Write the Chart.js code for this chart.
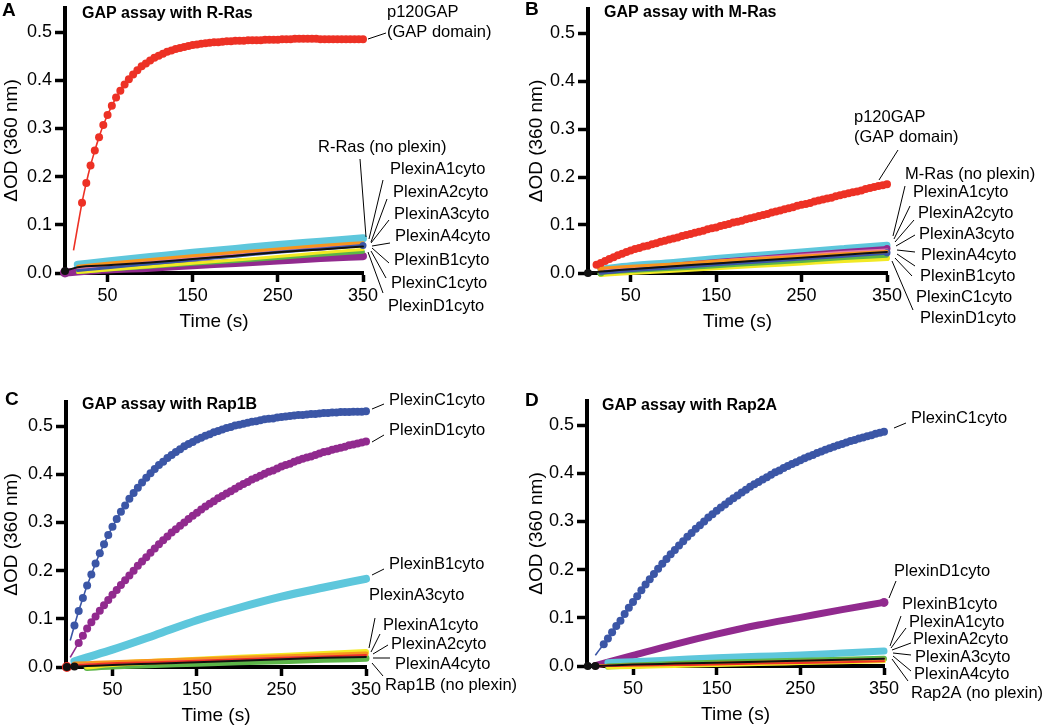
<!DOCTYPE html>
<html>
<head>
<meta charset="utf-8">
<script src="https://cdn.jsdelivr.net/npm/chart.js@4.4.1/dist/chart.umd.min.js"></script>
<style>
  body { margin: 0; background: #fff; width: 1050px; height: 728px; position: relative; overflow: hidden; }
  canvas { position: absolute; }
</style>
</head>
<body>
<canvas id="chartA" width="525" height="364" style="left:0;top:0"></canvas>
<canvas id="chartB" width="525" height="364" style="left:525px;top:0"></canvas>
<canvas id="chartC" width="525" height="364" style="left:0;top:364px"></canvas>
<canvas id="chartD" width="525" height="364" style="left:525px;top:364px"></canvas>
<script>
// ---- data ----
const xTicks = [50, 150, 250, 350];
const yTicks = [0, 0.1, 0.2, 0.3, 0.4, 0.5];

// time points of the dense (5 s) traces
const time5 = [0, 5, 10, 15, 20, 25, 30, 35, 40, 45,
    50, 55, 60, 65, 70, 75, 80, 85, 90, 95,
    100, 105, 110, 115, 120, 125, 130, 135, 140, 145,
    150, 155, 160, 165, 170, 175, 180, 185, 190, 195,
    200, 205, 210, 215, 220, 225, 230, 235, 240, 245,
    250, 255, 260, 265, 270, 275, 280, 285, 290, 295,
    300, 305, 310, 315, 320, 325, 330, 335, 340, 345,
    350];

// time points of the flat control traces
const bandTimeAB = [0, 15, 50, 100, 150, 200, 250, 300, 350];
const bandTimeCD = [-4, 5, 20, 50, 100, 150, 200, 250, 300, 350];

// A: R-Ras
const rRasP120 = [null, null, 0.047, null, 0.146, 0.187, 0.223, 0.254, 0.282, 0.307,
    0.328, 0.347, 0.364, 0.378, 0.391, 0.402, 0.412, 0.421, 0.429, 0.435,
    0.441, 0.447, 0.451, 0.455, 0.459, 0.462, 0.465, 0.467, 0.469, 0.471,
    0.473, 0.474, 0.476, 0.477, 0.478, 0.479, 0.479, 0.480, 0.481, 0.481,
    0.482, 0.482, 0.482, 0.483, 0.483, 0.483, 0.483, 0.484, 0.484, 0.484,
    0.484, 0.485, 0.485, 0.485, 0.486, 0.486, 0.486, 0.486, 0.486, 0.486,
    0.485, 0.485, 0.485, 0.485, 0.485, 0.485, 0.485, 0.485, 0.485, 0.485,
    0.485];
const rRasCyan   = [null, 0.017, 0.024, 0.033, 0.042, 0.050, 0.058, 0.065, 0.072];
const rRasOrange = [null, 0.014, 0.020, 0.028, 0.036, 0.043, 0.050, 0.057, 0.063];
const rRasPink   = [null, 0.010, 0.016, 0.024, 0.032, 0.040, 0.047, 0.054, 0.060];
const rRasBlue   = [null, 0.005, 0.011, 0.019, 0.027, 0.035, 0.043, 0.050, 0.057];
const rRasBlack  = [0.004, 0.012, 0.016, 0.022, 0.029, 0.036, 0.043, 0.049, 0.055];
const rRasYellow = [null, 0.001, 0.006, 0.013, 0.020, 0.027, 0.034, 0.042, 0.049];
const rRasGreen  = [null, 0.002, 0.007, 0.013, 0.019, 0.025, 0.031, 0.038, 0.044];
const rRasPurple = [0.001, 0.003, 0.007, 0.011, 0.016, 0.021, 0.026, 0.031, 0.035];

// B: M-Ras
const mRasP120 = [null, null, 0.017, 0.021, 0.025, 0.029, 0.033, 0.037, 0.040, 0.044,
    0.047, 0.050, 0.052, 0.055, 0.057, 0.060, 0.062, 0.065, 0.067, 0.070,
    0.072, 0.074, 0.077, 0.079, 0.081, 0.084, 0.086, 0.088, 0.091, 0.093,
    0.095, 0.098, 0.100, 0.102, 0.105, 0.107, 0.109, 0.112, 0.114, 0.116,
    0.119, 0.121, 0.123, 0.126, 0.128, 0.130, 0.133, 0.135, 0.137, 0.140,
    0.142, 0.144, 0.146, 0.149, 0.151, 0.153, 0.155, 0.157, 0.160, 0.162,
    0.164, 0.166, 0.168, 0.170, 0.172, 0.175, 0.177, 0.179, 0.181, 0.183,
    0.185];
const mRasCyan   = [null, 0.008, 0.015, 0.022, 0.030, 0.037, 0.044, 0.051, 0.058];
const mRasPurple = [null, 0.002, 0.008, 0.016, 0.024, 0.031, 0.038, 0.045, 0.051];
const mRasPink   = [null, 0.004, 0.010, 0.017, 0.024, 0.031, 0.037, 0.043, 0.048];
const mRasOrange = [null, 0.010, 0.014, 0.019, 0.025, 0.030, 0.035, 0.040, 0.045];
const mRasBlue   = [null, 0.001, 0.006, 0.012, 0.018, 0.024, 0.030, 0.036, 0.042];
const mRasBlack  = [0.0, 0.003, 0.008, 0.014, 0.020, 0.026, 0.032, 0.038, 0.044];
const mRasGreen  = [null, 0.0, 0.004, 0.009, 0.014, 0.020, 0.025, 0.031, 0.036];
const mRasYellow = [null, -0.002, 0.002, 0.007, 0.012, 0.017, 0.022, 0.027, 0.031];

// C: Rap1B
const rap1bC1 = [0.055, 0.086, 0.116, 0.143, 0.169, 0.192, 0.215, 0.236, 0.255, 0.274,
    0.291, 0.307, 0.322, 0.335, 0.349, 0.361, 0.372, 0.383, 0.393, 0.402,
    0.411, 0.419, 0.426, 0.434, 0.440, 0.446, 0.452, 0.458, 0.463, 0.467,
    0.472, 0.476, 0.480, 0.483, 0.487, 0.490, 0.493, 0.496, 0.498, 0.501,
    0.503, 0.505, 0.507, 0.509, 0.510, 0.512, 0.514, 0.515, 0.516, 0.518,
    0.519, 0.520, 0.521, 0.522, 0.523, 0.523, 0.524, 0.525, 0.525, 0.526,
    0.527, 0.527, 0.528, 0.528, 0.529, 0.529, 0.529, 0.530, 0.530, 0.530,
    0.531];
const rap1bD1 = [0.020, null, 0.050, 0.065, 0.080, 0.093, 0.105, 0.117, 0.128, 0.139,
    0.150, 0.160, 0.170, 0.180, 0.190, 0.200, 0.210, 0.219, 0.228, 0.237,
    0.246, 0.255, 0.263, 0.271, 0.279, 0.286, 0.293, 0.300, 0.307, 0.314,
    0.320, 0.327, 0.333, 0.339, 0.344, 0.350, 0.355, 0.360, 0.365, 0.370,
    0.375, 0.380, 0.384, 0.389, 0.393, 0.397, 0.401, 0.405, 0.408, 0.412,
    0.416, 0.419, 0.422, 0.426, 0.429, 0.432, 0.435, 0.437, 0.440, 0.443,
    0.446, 0.448, 0.451, 0.453, 0.455, 0.457, 0.460, 0.462, 0.464, 0.466,
    0.468];
const rap1bB1     = [null, 0.012, 0.020, 0.036, 0.066, 0.097, 0.123, 0.146, 0.165, 0.183];
const rap1bYellow = [null, null, 0.001, 0.006, 0.011, 0.015, 0.019, 0.023, 0.027, 0.031];
const rap1bOrange = [null, 0.006, 0.007, 0.009, 0.012, 0.015, 0.018, 0.021, 0.024, 0.027];
const rap1bRed    = [0.0, 0.003, 0.005, 0.008, 0.010, 0.013, 0.016, 0.019, 0.022, 0.025];
const rap1bPink   = [null, 0.004, 0.005, 0.007, 0.010, 0.013, 0.016, 0.019, 0.022, 0.024];
const rap1bBlack  = [0.0, 0.001, 0.002, 0.004, 0.007, 0.010, 0.013, 0.016, 0.019, 0.021];
const rap1bGreen  = [null, null, -0.001, 0.002, 0.005, 0.008, 0.011, 0.013, 0.016, 0.018];

// D: Rap2A
const rap2aC1 = [null, 0.022, 0.034, 0.045, 0.057, 0.070, 0.083, 0.094, 0.108, 0.121,
    0.133, 0.145, 0.157, 0.169, 0.180, 0.191, 0.202, 0.212, 0.222, 0.232,
    0.241, 0.250, 0.259, 0.268, 0.276, 0.285, 0.292, 0.300, 0.308, 0.315,
    0.322, 0.329, 0.335, 0.342, 0.348, 0.354, 0.360, 0.366, 0.372, 0.377,
    0.382, 0.387, 0.392, 0.397, 0.402, 0.406, 0.411, 0.415, 0.419, 0.423,
    0.427, 0.431, 0.435, 0.438, 0.442, 0.445, 0.449, 0.452, 0.455, 0.458,
    0.461, 0.464, 0.467, 0.469, 0.472, 0.474, 0.477, 0.479, 0.482, 0.484,
    0.486];
const rap2aD1     = [null, 0.001, 0.008, 0.022, 0.045, 0.066, 0.085, 0.101, 0.117, 0.132];
const rap2aCyan   = [null, null, 0.007, 0.009, 0.013, 0.017, 0.020, 0.023, 0.027, 0.031];
const rap2aGreen  = [null, null, -0.001, 0.001, 0.004, 0.007, 0.009, 0.011, 0.013, 0.015];
const rap2aOrange = [null, 0.0, 0.001, 0.002, 0.004, 0.006, 0.008, 0.010, 0.012, 0.014];
const rap2aRed    = [null, 0.0, 0.0, 0.001, 0.002, 0.003, 0.005, 0.006, 0.008, 0.010];
const rap2aYellow = [null, null, -0.003, -0.002, 0.0, 0.002, 0.004, 0.006, 0.008, 0.010];
const rap2aBlack  = [0.0, 0.0, 0.001, 0.003, 0.005, 0.007, 0.009, 0.011, 0.013, 0.015];

// ---- colours ----
const RED = '#ed3125', BLUE = '#3b56a6', PURPLE = '#912a8e', CYAN = '#5ec7dc',
      ORANGE = '#f7941e', YELLOW = '#f2e924', GREEN = '#5cb548', PINK = '#e87ba5', BLACK = '#111111';

const FONT = '"Liberation Sans", Arial, sans-serif';
Chart.defaults.font.family = FONT;
Chart.defaults.color = '#000';

function pair(times, values) {
    return times.map((t, i) => ({ x: t, y: values[i] }));
}

// trace drawn as dots joined by a thin fitted line
function dotted(times, values, color, firstDot) {
    return {
        data: pair(times, values),
        borderColor: color, backgroundColor: color, borderWidth: 1.6,
        pointRadius: ctx => (times[ctx.dataIndex] < firstDot ? 0 : 4),
        pointBorderWidth: 0, pointHoverRadius: 0,
        spanGaps: true, tension: 0.3, clip: false
    };
}

// flat trace: dots so dense they merge into a band
function band(times, values, color, width, dots = [], dotR = 4) {
    return {
        data: pair(times, values),
        borderColor: color, backgroundColor: color, borderWidth: width,
        borderCapStyle: 'round', borderJoinStyle: 'round',
        pointRadius: ctx => (dots.includes(ctx.dataIndex) ? dotR : 0),
        pointBorderWidth: 0, pointHoverRadius: 0,
        spanGaps: true, cubicInterpolationMode: 'monotone', clip: false
    };
}

// letters, titles and right-hand labels with leader lines
const annotPlugin = {
    id: 'annot',
    afterDraw(chart, args, o) {
        const ctx = chart.ctx, a = chart.chartArea;
        ctx.save();
        ctx.fillStyle = '#000';
        ctx.textBaseline = 'middle';
        ctx.font = 'bold 19px ' + FONT;
        ctx.fillText(o.letter, o.letterPos[0], o.letterPos[1]);
        ctx.font = 'bold 16px ' + FONT;
        ctx.fillText(o.title, o.titlePos[0], o.titlePos[1]);
        ctx.font = '16.5px ' + FONT;
        ctx.strokeStyle = '#000';
        ctx.lineWidth = 1;
        o.labels.forEach(l => {
            l.t.forEach((s, i) => ctx.fillText(s, a.right + l.dx, a.bottom + l.dy + i * 20));
            ctx.beginPath();
            ctx.moveTo(a.right + l.lead[0], a.bottom + l.lead[1]);
            ctx.lineTo(a.right + l.lead[2], a.bottom + l.lead[3]);
            ctx.stroke();
        });
        ctx.restore();
    }
};

function makeChart(id, p) {
    new Chart(document.getElementById(id), {
        type: 'line',
        data: { datasets: p.datasets },
        options: {
            responsive: false,
            animation: false,
            layout: { padding: p.pad },
            plugins: { legend: { display: false }, tooltip: { enabled: false }, annot: p.annot },
            scales: {
                x: {
                    type: 'linear', min: p.xmin, max: 350,
                    afterBuildTicks: s => { s.ticks = xTicks.map(v => ({ value: v })); },
                    afterFit: s => { s.height = 60; s.paddingLeft = 0; s.paddingRight = 0; },
                    ticks: { font: { size: 18 }, padding: 3, color: '#000', maxRotation: 0 },
                    grid: { drawOnChartArea: false, drawTicks: true, tickLength: 9, tickWidth: 3.5, tickColor: '#000' },
                    border: { display: true, width: 4, color: '#000' },
                    title: { display: true, text: 'Time (s)', font: { size: 19 }, padding: 0, color: '#000' }
                },
                y: {
                    min: 0, max: 0.55,
                    afterBuildTicks: s => { s.ticks = yTicks.map(v => ({ value: v })); },
                    afterFit: s => { s.width = p.yW; s.paddingTop = 0; s.paddingBottom = 0; },
                    ticks: { font: { size: 18 }, padding: 3, color: '#000', callback: v => v.toFixed(1) },
                    grid: { drawOnChartArea: false, drawTicks: true, tickLength: 10, tickWidth: 3.5, tickColor: '#000' },
                    border: { display: true, width: 4, color: '#000' },
                    title: { display: true, text: 'ΔOD (360 nm)', font: { size: 19 }, padding: 0, color: '#000' }
                }
            }
        },
        plugins: [annotPlugin]
    });
}

// A
makeChart('chartA', {
    xmin: 0, yW: 65, pad: { left: 0, right: 162, top: 8, bottom: 31 },
    datasets: [
        dotted(time5, rRasP120, RED, 20),
        band(bandTimeAB, rRasBlack, BLACK, 2, [0], 4),
        band(bandTimeAB, rRasBlue, BLUE, 3, [8], 3.5),
        band(bandTimeAB, rRasOrange, ORANGE, 3),
        band(bandTimeAB, rRasPink, PINK, 3),
        band(bandTimeAB, rRasYellow, YELLOW, 3),
        band(bandTimeAB, rRasGreen, GREEN, 4),
        band(bandTimeAB, rRasCyan, CYAN, 8),
        band(bandTimeAB, rRasPurple, PURPLE, 8, [0], 5)
    ],
    annot: {
        letter: 'A', letterPos: [2, 11], title: 'GAP assay with R-Ras', titlePos: [82, 14],
        labels: [
            { t: ['p120GAP', '(GAP domain)'], dx: 24, dy: -261, lead: [5, -234, 23, -240] },
            { t: ['R-Ras (no plexin)'], dx: -45, dy: -126, lead: [-3, -114, 3, -36] },
            { t: ['PlexinA1cyto'], dx: 27, dy: -104, lead: [20, -93, 6, -34] },
            { t: ['PlexinA2cyto'], dx: 30, dy: -81, lead: [24, -74, 8, -31] },
            { t: ['PlexinA3cyto'], dx: 31, dy: -59, lead: [26, -53, 8, -30] },
            { t: ['PlexinA4cyto'], dx: 32, dy: -37, lead: [27, -30, 9, -27] },
            { t: ['PlexinB1cyto'], dx: 31, dy: -13, lead: [26, -10, 9, -25] },
            { t: ['PlexinC1cyto'], dx: 28, dy: 10, lead: [23, 5, 8, -22] },
            { t: ['PlexinD1cyto'], dx: 25, dy: 33, lead: [20, 20, 5, -21] }
        ]
    }
});

// B
makeChart('chartB', {
    xmin: 0, yW: 63, pad: { left: 0, right: 163, top: 9, bottom: 31 },
    datasets: [
        dotted(time5, mRasP120, RED, 10),
        band(bandTimeAB, mRasBlack, BLACK, 2, [0], 4),
        band(bandTimeAB, mRasOrange, ORANGE, 3, [1], 3.5),
        band(bandTimeAB, mRasBlue, BLUE, 4, [8], 3.5),
        band(bandTimeAB, mRasPink, PINK, 3),
        band(bandTimeAB, mRasPurple, PURPLE, 5, [8], 3.5),
        band(bandTimeAB, mRasGreen, GREEN, 4, [1], 3.5),
        band(bandTimeAB, mRasYellow, YELLOW, 6),
        band(bandTimeAB, mRasCyan, CYAN, 7)
    ],
    annot: {
        letter: 'B', letterPos: [0, 10], title: 'GAP assay with M-Ras', titlePos: [79, 13],
        labels: [
            { t: ['p120GAP', '(GAP domain)'], dx: -33, dy: -156, lead: [11, -123, -8, -93] },
            { t: ['M-Ras (no plexin)'], dx: 18, dy: -99, lead: [18, -87, 6, -37] },
            { t: ['PlexinA1cyto'], dx: 26, dy: -81, lead: [23, -67, 7, -34] },
            { t: ['PlexinA2cyto'], dx: 31, dy: -60, lead: [27, -53, 8, -31] },
            { t: ['PlexinA3cyto'], dx: 32, dy: -39, lead: [28, -38, 9, -27] },
            { t: ['PlexinA4cyto'], dx: 34, dy: -18, lead: [28, -21, 10, -23] },
            { t: ['PlexinB1cyto'], dx: 33, dy: 3, lead: [28, -7, 10, -19] },
            { t: ['PlexinC1cyto'], dx: 29, dy: 24, lead: [25, 3, 8, -15] },
            { t: ['PlexinD1cyto'], dx: 33, dy: 45, lead: [26, 37, 5, -12] }
        ]
    }
});

// C
makeChart('chartC', {
    xmin: -5, yW: 66, pad: { left: 0, right: 159, top: 38, bottom: 1 },
    datasets: [
        dotted(time5, rap1bC1, BLUE, 5),
        dotted(time5, rap1bD1, PURPLE, 10),
        band(bandTimeCD, rap1bBlack, BLACK, 2, [0, 1], 4),
        band(bandTimeCD, rap1bRed, RED, 2, [0], 5),
        band(bandTimeCD, rap1bPink, PINK, 2),
        band(bandTimeCD, rap1bOrange, ORANGE, 5),
        band(bandTimeCD, rap1bYellow, YELLOW, 6),
        band(bandTimeCD, rap1bGreen, GREEN, 7),
        band(bandTimeCD, rap1bB1, CYAN, 8)
    ],
    annot: {
        letter: 'C', letterPos: [5, 36], title: 'GAP assay with Rap1B', titlePos: [82, 41],
        labels: [
            { t: ['PlexinC1cyto'], dx: 23, dy: -267, lead: [6, -258, 18, -263] },
            { t: ['PlexinD1cyto'], dx: 23, dy: -237, lead: [6, -225, 18, -232] },
            { t: ['PlexinB1cyto'], dx: 23, dy: -103, lead: [6, -92, 18, -98] },
            { t: ['PlexinA3cyto'], dx: 3, dy: -72, lead: [9, -49, 3, -19] },
            { t: ['PlexinA1cyto'], dx: 17, dy: -42, lead: [14, -33, 5, -15] },
            { t: ['PlexinA2cyto'], dx: 25, dy: -23, lead: [22, -22, 7, -13] },
            { t: ['PlexinA4cyto'], dx: 29, dy: -3, lead: [24, -9, 7, -9] },
            { t: ['Rap1B (no plexin)'], dx: 19, dy: 18, lead: [17, 9, 6, -4] }
        ]
    }
});

// D
makeChart('chartD', {
    xmin: -5, yW: 62, pad: { left: 0, right: 166, top: 37, bottom: 2 },
    datasets: [
        dotted(time5, rap2aC1, BLUE, 15),
        band(bandTimeCD, rap2aBlack, BLACK, 2, [0, 1], 4),
        band(bandTimeCD, rap2aRed, RED, 2, [1], 3.5),
        band(bandTimeCD, rap2aOrange, ORANGE, 3),
        band(bandTimeCD, rap2aYellow, YELLOW, 4),
        band(bandTimeCD, rap2aGreen, GREEN, 6),
        band(bandTimeCD, rap2aCyan, CYAN, 7),
        band(bandTimeCD, rap2aD1, PURPLE, 7, [9], 4.5)
    ],
    annot: {
        letter: 'D', letterPos: [0, 37], title: 'GAP assay with Rap2A', titlePos: [77, 42],
        labels: [
            { t: ['PlexinC1cyto'], dx: 27, dy: -248, lead: [10, -238, 22, -243] },
            { t: ['PlexinD1cyto'], dx: 10, dy: -95, lead: [12, -85, 5, -68] },
            { t: ['PlexinB1cyto'], dx: 18, dy: -62, lead: [17, -50, 6, -20] },
            { t: ['PlexinA1cyto'], dx: 25, dy: -44, lead: [22, -38, 7, -18] },
            { t: ['PlexinA2cyto'], dx: 29, dy: -27, lead: [27, -23, 8, -16] },
            { t: ['PlexinA3cyto'], dx: 31, dy: -9, lead: [27, -11, 9, -13] },
            { t: ['PlexinA4cyto'], dx: 30, dy: 8, lead: [27, 5, 9, -10] },
            { t: ['Rap2A (no plexin)'], dx: 27, dy: 27, lead: [24, 15, 8, -7] }
        ]
    }
});
</script>
</body>
</html>
